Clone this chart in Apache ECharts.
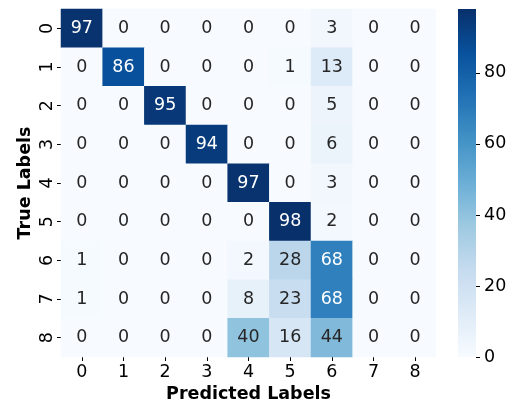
<!DOCTYPE html>
<html>
<head>
<meta charset="utf-8">
<script src="https://cdn.jsdelivr.net/npm/echarts@6/dist/echarts.min.js"></script>
<style>
  html, body { margin: 0; padding: 0; background: #ffffff; }
  #chart { width: 508px; height: 400px; }
</style>
</head>
<body>
<div id="chart"></div>
<script>
// Class labels shared by both axes
const predictedLabels = ['0', '1', '2', '3', '4', '5', '6', '7', '8'];
const trueLabels = ['0', '1', '2', '3', '4', '5', '6', '7', '8'];

// Confusion matrix, one array per true class (percent of that class)
const row0 = [97, 0, 0, 0, 0, 0, 3, 0, 0];
const row1 = [0, 86, 0, 0, 0, 1, 13, 0, 0];
const row2 = [0, 0, 95, 0, 0, 0, 5, 0, 0];
const row3 = [0, 0, 0, 94, 0, 0, 6, 0, 0];
const row4 = [0, 0, 0, 0, 97, 0, 3, 0, 0];
const row5 = [0, 0, 0, 0, 0, 98, 2, 0, 0];
const row6 = [1, 0, 0, 0, 2, 28, 68, 0, 0];
const row7 = [1, 0, 0, 0, 8, 23, 68, 0, 0];
const row8 = [0, 0, 0, 0, 40, 16, 44, 0, 0];
const matrix = [row0, row1, row2, row3, row4, row5, row6, row7, row8];

// Colour bar ticks
const colorbarTicks = [0, 20, 40, 60, 80];

// Sequential blue palette
const blues = ['#f7fbff', '#deebf7', '#c6dbef', '#9ecae1', '#6baed6',
               '#4292c6', '#2171b5', '#08519c', '#08306b'];

const vMin = 0;
const vMax = Math.max(...matrix.flat());
const FONT = 'DejaVu Sans';

function hexToRgb(h) {
  return [parseInt(h.slice(1, 3), 16), parseInt(h.slice(3, 5), 16), parseInt(h.slice(5, 7), 16)];
}
function colourAt(v) {
  const t = Math.min(1, Math.max(0, (v - vMin) / (vMax - vMin))) * (blues.length - 1);
  const i = Math.min(blues.length - 2, Math.floor(t));
  const f = t - i;
  const a = hexToRgb(blues[i]), b = hexToRgb(blues[i + 1]);
  return a.map((c, k) => (c + (b[k] - c) * f) / 255);
}
function luminance(rgb) {
  const lin = rgb.map(c => c <= 0.03928 ? c / 12.92 : Math.pow((c + 0.055) / 1.055, 2.4));
  return 0.2126 * lin[0] + 0.7152 * lin[1] + 0.0722 * lin[2];
}

// Build heatmap items with annotation colour picked for contrast
const cells = [];
matrix.forEach((row, r) => {
  row.forEach((v, c) => {
    const light = luminance(colourAt(v)) > 0.408;
    cells.push({
      value: [c, r, v],
      label: { color: light ? '#262626' : '#ffffff' }
    });
  });
});

// Vertical gradient for the colour bar, bottom (low) to top (high)
const barGradient = new echarts.graphic.LinearGradient(0, 1, 0, 0,
  blues.map((c, i) => ({ offset: i / (blues.length - 1), color: c })));

const chart = echarts.init(document.getElementById('chart'), null, { renderer: 'canvas' });

chart.setOption({
  animation: false,
  backgroundColor: '#ffffff',
  textStyle: { fontFamily: FONT },
  grid: [
    { left: 61, top: 9, width: 375, height: 348, containLabel: false, outerBoundsMode: 'none' },
    { left: 458, top: 9, width: 18, height: 348, containLabel: false, outerBoundsMode: 'none' }
  ],
  xAxis: [
    {
      gridIndex: 0,
      type: 'category',
      data: predictedLabels,
      position: 'bottom',
      name: 'Predicted Labels',
      nameLocation: 'middle',
      nameGap: 22,
      nameTextStyle: { fontFamily: FONT, fontSize: 17.5, fontWeight: 'bold', color: '#000000' },
      axisLine: { show: false },
      axisTick: { show: true, length: 4, alignWithLabel: true, lineStyle: { color: '#000000', width: 1 } },
      axisLabel: { fontFamily: FONT, fontSize: 17.5, color: '#000000', margin: 6 },
      splitLine: { show: false }
    },
    {
      gridIndex: 1,
      type: 'category',
      data: ['scale'],
      show: false
    }
  ],
  yAxis: [
    {
      gridIndex: 0,
      type: 'category',
      data: trueLabels,
      inverse: true,
      name: 'True Labels',
      nameLocation: 'middle',
      nameGap: 27,
      nameMoveOverlap: false,
      nameTextStyle: { fontFamily: FONT, fontSize: 17.5, fontWeight: 'bold', color: '#000000' },
      axisLine: { show: false },
      axisTick: { show: true, length: 4, alignWithLabel: true, lineStyle: { color: '#000000', width: 1 } },
      axisLabel: { fontFamily: FONT, fontSize: 17.5, color: '#000000', rotate: 90, margin: 5 },
      splitLine: { show: false }
    },
    {
      gridIndex: 1,
      type: 'value',
      position: 'right',
      min: vMin,
      max: vMax,
      interval: 20,
      axisLine: { show: false },
      axisTick: {
        show: true, length: 4, customValues: colorbarTicks,
        lineStyle: { color: '#000000', width: 1 }
      },
      axisLabel: {
        fontFamily: FONT, fontSize: 17.5, color: '#000000', margin: 8,
        customValues: colorbarTicks,
        formatter: v => colorbarTicks.includes(v) ? String(v) : ''
      },
      splitLine: { show: false }
    }
  ],
  visualMap: {
    type: 'continuous',
    show: false,
    seriesIndex: 0,
    min: vMin,
    max: vMax,
    inRange: { color: blues }
  },
  series: [
    {
      type: 'heatmap',
      xAxisIndex: 0,
      yAxisIndex: 0,
      data: cells,
      label: {
        show: true,
        fontFamily: FONT,
        fontSize: 17.5,
        formatter: p => String(p.value[2])
      },
      itemStyle: { borderWidth: 0 },
      emphasis: { disabled: true }
    },
    {
      // colour bar spanning the full value range
      type: 'bar',
      xAxisIndex: 1,
      yAxisIndex: 1,
      data: [vMax],
      barWidth: '100%',
      itemStyle: { color: barGradient },
      emphasis: { disabled: true },
      silent: true
    }
  ]
});
</script>
</body>
</html>
